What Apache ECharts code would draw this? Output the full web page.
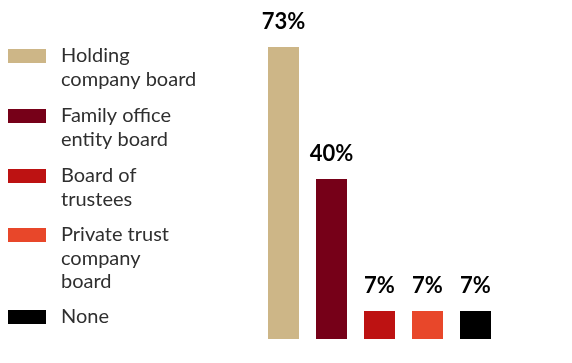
<!DOCTYPE html>
<html>
<head>
<meta charset="utf-8">
<style>
  html, body { margin: 0; padding: 0; background: #fff; }
  #chart { width: 572px; height: 363px; }
</style>
<script src="https://cdn.jsdelivr.net/npm/echarts@6/dist/echarts.min.js"></script>
</head>
<body>
<div id="chart"></div>
<script>
// Board types and the share of respondents for each
const categories = [
  'Holding\ncompany board',
  'Family office\nentity board',
  'Board of\ntrustees',
  'Private trust\ncompany\nboard',
  'None'
];
const values = [73, 40, 7, 7, 7];
const colors = ['#CDB687', '#760018', '#BD1212', '#E8472A', '#000000'];

// Legend layout: swatch top for each entry and text metrics
const swatchTops = [49, 109, 169, 228, 310];
const LINE_H = 23.5;
const SW_W = 38, SW_H = 14;

const series = categories.map((name, i) => ({
  name: name,
  type: 'bar',
  stack: 'total',
  barWidth: 31,
  itemStyle: { color: colors[i] },
  data: values.map((v, j) => (j === i ? v : '-')),
  label: {
    show: true,
    position: 'top',
    distance: 14,
    formatter: '{c}%',
    fontFamily: 'Lato',
    fontWeight: 'bold',
    fontSize: 22,
    color: '#000'
  }
}));

// One legend block per entry. The legend text is centred on its swatch, so
// blank lines are put above the name to bring its first line level with the swatch.
const legends = categories.map((name, i) => {
  const n = name.split('\n').length;
  const top = swatchTops[i] + SW_H / 2 - (2 * n - 1) * LINE_H / 2;
  return {
    data: [name],
    left: 8,
    top: top,
    padding: 0,
    orient: 'vertical',
    selectedMode: false,
    icon: 'rect',
    itemWidth: SW_W,
    itemHeight: SW_H,
    formatter: (label) => '\n'.repeat(n - 1) + label,
    textStyle: {
      fontFamily: 'Lato',
      fontSize: 20,
      color: '#2f2f2f',
      lineHeight: LINE_H,
      padding: [0, 0, 0, 10]
    }
  };
});

const chart = echarts.init(document.getElementById('chart'), null, { renderer: 'canvas' });
chart.setOption({
  animation: false,
  legend: legends,
  grid: { left: 259.5, right: 72.5, top: 19, bottom: 24, containLabel: false },
  xAxis: {
    type: 'category',
    data: categories,
    axisLine: { show: false },
    axisTick: { show: false },
    axisLabel: { show: false },
    splitLine: { show: false }
  },
  yAxis: {
    type: 'value',
    min: 0,
    max: 80,
    show: false,
    splitLine: { show: false }
  },
  series: series
});
</script>
</body>
</html>
